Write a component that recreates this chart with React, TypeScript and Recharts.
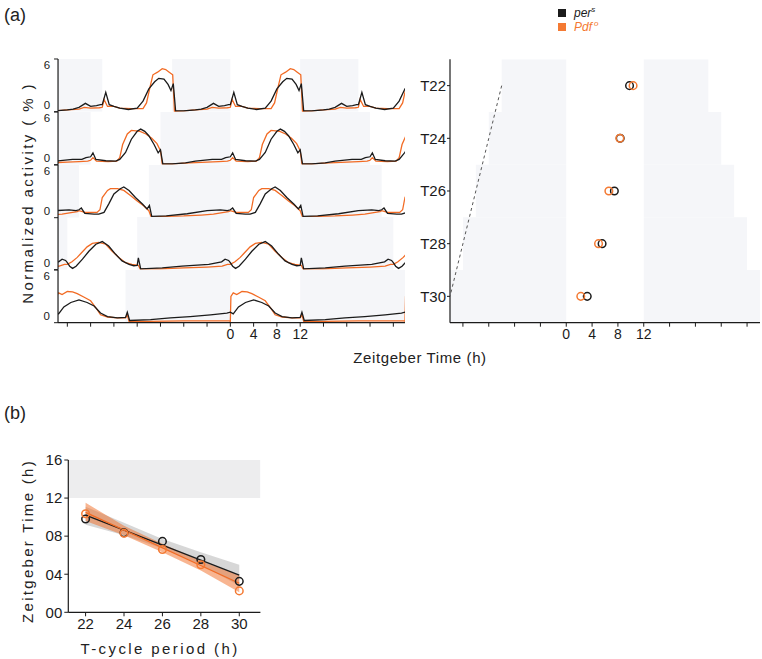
import React from "react";
import {
  LineChart,
  Line,
  XAxis,
  YAxis,
  ReferenceArea,
  ComposedChart,
  Scatter,
  Area,
} from "recharts";

const FONT = '"Liberation Sans", Arial, Helvetica, sans-serif';
const BLACK = "#1b1b1b";
const ORANGE = "#f26b24";
const ORANGE_PT = "#f47a33";
const NIGHT = "#f5f6f9";

// T-cycles: 12 h light, T - 12 h dark
const PERIODS = [22, 24, 26, 28, 30];

// mean activity profile over one cycle, [ZT (h), activity (%)]
const PERS_T22 = [
  [0, 0.8], [0.6, 2.2], [1.2, 0.8], [2, 0.6], [3, 0.4], [4.5, 0.25], [6, 0.4],
  [7, 1.2], [8, 2.6], [9, 3.4], [9.7, 3.8], [10.6, 3.7], [11.3, 3.1], [11.8, 2.4],
  [12.2, 3.2], [12.6, 0.1], [14, 0.1], [16, 0.2], [17, 0.3], [18, 0.5], [19.1, 0.95],
  [20, 0.6], [21, 0.7], [21.7, 0.8],
];
const PDF_T22 = [
  [0, 0.5], [0.3, 1.4], [0.9, 0.6], [2, 0.6], [3, 0.4], [5, 0.35], [7, 0.35],
  [7.6, 1.0], [8.2, 2.8], [8.7, 4.2], [9.5, 4.5], [10.3, 4.9], [10.9, 4.8], [11.5, 4.5],
  [12.1, 4.2], [12.4, 0.05], [14, 0.1], [16, 0.2], [18, 0.3], [18.9, 0.5], [20, 0.4],
  [21.5, 0.45],
];
const PERS_T24 = [
  [0, 0.9], [0.4, 1.35], [0.9, 0.6], [2.6, 0.45], [4.3, 0.4], [5, 0.6], [6, 1.4],
  [7, 2.9], [8, 3.8], [8.6, 4.05], [9.3, 3.8], [10, 3.3], [10.9, 2.3], [11.6, 1.35],
  [12, 1.7], [12.4, 0.1], [14, 0.1], [16.3, 0.2], [18, 0.4], [20.9, 0.6], [22.5, 0.6],
  [23.2, 0.8],
];
const PDF_T24 = [
  [0, 0.5], [0.4, 0.8], [1, 0.4], [3, 0.35], [4.5, 0.4], [5, 0.8], [5.5, 2.3],
  [6.3, 3.5], [7, 3.9], [8.5, 3.8], [9.5, 3.5], [10.5, 3.0], [11.4, 2.4], [12, 1.6],
  [12.3, 0.1], [14, 0.1], [17, 0.2], [20, 0.3], [22, 0.35], [23.5, 0.4],
];
const PERS_T26 = [
  [0, 0.9], [0.4, 1.1], [1, 0.5], [2.6, 0.4], [3.4, 0.4], [4.3, 0.6], [5.1, 1.55],
  [6, 2.7], [7.1, 3.3], [7.7, 3.5], [8.6, 3.1], [9.7, 2.3], [10.9, 1.55], [11.7, 1.0],
  [12.1, 1.4], [12.5, 0.15], [15, 0.2], [18.6, 0.45], [22, 0.8], [24.3, 0.9], [25.5, 0.8],
];
const PDF_T26 = [
  [0, 0.8], [1, 0.6], [3.1, 0.6], [3.6, 0.9], [4, 2.3], [4.9, 3.1], [5.4, 3.3],
  [6.6, 3.3], [7.7, 3.1], [8.9, 2.5], [10, 1.9], [11.1, 1.35], [12, 0.8], [12.4, 0.1],
  [15, 0.15], [18, 0.2], [21, 0.3], [23.1, 0.4], [24.9, 0.6], [25.7, 0.7],
];
const PERS_T28 = [
  [0, 0.8], [0.4, 0.4], [0.9, 0.15], [1.5, 0.4], [2.6, 1.2], [3.7, 2.1], [4.9, 2.9],
  [6, 3.2], [7.1, 2.7], [8.3, 1.75], [9.4, 1.0], [10.6, 0.6], [11.4, 0.45], [12, 0.5],
  [12.2, 1.35], [12.6, 0.1], [16.3, 0.2], [19.7, 0.4], [24.3, 0.6], [26.5, 0.9],
  [27.1, 1.2], [27.7, 1.05],
];
const PDF_T28 = [
  [0, 0.6], [0.8, 0.9], [1.7, 1.4], [2.4, 1.9], [3.4, 2.6], [4.3, 3.0], [5.4, 3.1],
  [6.6, 2.9], [7.7, 2.1], [8.9, 1.35], [10, 0.8], [11.1, 0.6], [12.2, 0.5], [12.5, 0.1],
  [16, 0.1], [20, 0.2], [24, 0.3], [26.6, 0.4], [27.5, 0.6],
];
const PERS_T30 = [
  [0, 1.2], [0.5, 1.0], [1.4, 1.8], [2.6, 2.3], [4, 2.6], [5.4, 2.3], [6.6, 1.9],
  [7.7, 1.1], [8.9, 0.7], [10.6, 0.55], [12, 0.6], [12.3, 1.2], [12.7, 0.25],
  [16.3, 0.35], [19.7, 0.55], [23.1, 0.7], [26.6, 0.9], [29.4, 1.1],
];
const PDF_T30 = [
  [0, 0.15], [0.1, 3.0], [0.5, 3.4], [1.1, 3.2], [2, 3.55], [2.9, 3.5], [3.7, 3.3],
  [4.9, 2.9], [6, 2.5], [6.9, 1.7], [7.7, 0.9], [8.9, 0.65], [10.6, 0.55], [12, 0.55],
  [12.3, 0.9], [12.6, 0.15], [16, 0.15], [22, 0.2], [27, 0.2], [29.8, 0.2],
];
const PERS_PROFILES = [PERS_T22, PERS_T24, PERS_T26, PERS_T28, PERS_T30];
const PDF_PROFILES = [PDF_T22, PDF_T24, PDF_T26, PDF_T28, PDF_T30];

// evening peak phase (ZT h)
const PERS_PHASE = [9.8, 8.35, 7.45, 5.55, 3.25];
const PDF_PHASE = [10.35, 8.3, 6.6, 5.0, 2.25];

// regression fits (ends at T22, T30) and 95% bands
const PERS_FIT = [10.2, 3.9];
const PDF_FIT = [10.5, 3.05];
const PERS_CI_LO = [9.2, 8.1, 6.7, 5.0, 2.8];
const PERS_CI_HI = [11.1, 9.4, 7.7, 6.3, 5.0];
const PDF_CI_LO = [9.6, 8.1, 6.3, 4.4, 2.1];
const PDF_CI_HI = [11.5, 9.1, 7.2, 5.4, 3.9];

const ACTO_DOMAIN: [number, number] = [-29.6, 30];
const ZT_TICKS = [-28, -24, -20, -16, -12, -8, -4, 0, 4, 8, 12, 16, 20, 24, 28];
const LABELED = [0, 4, 8, 12];
const ACT_TICKS = [0, 6];
const PB_YTICKS = [0, 4, 8, 12, 16];

const ROW_TOP = 59.3;
const ROW_H = 52.7;

const ztLabel = (v: number) => (LABELED.includes(v) ? String(v) : "");

function repeatCycle(profile: number[][], period: number) {
  const out: { zt: number; v: number }[] = [];
  for (let k = -2; k <= 1; k++) {
    for (const [t, v] of profile) out.push({ zt: t + k * period, v });
  }
  return out;
}

function darkPhases(period: number) {
  const out: [number, number][] = [];
  for (let k = -2; k <= 1; k++) {
    const a = 12 + k * period;
    const b = (k + 1) * period;
    if (b > ACTO_DOMAIN[0] && a < ACTO_DOMAIN[1]) {
      out.push([Math.max(a, ACTO_DOMAIN[0]), Math.min(b, ACTO_DOMAIN[1])]);
    }
  }
  return out;
}

// "6" sits just under the row top, "0" just above the baseline
function ActTick(props: any) {
  const { x, y, payload } = props;
  const top = payload.value > 0;
  return (
    <text x={x} y={y + (top ? 10 : -3)} textAnchor="end" fontSize={11.5} fill={BLACK} fontFamily={FONT}>
      {payload.value}
    </text>
  );
}

const ring = (color: string) => (props: any) => (
  <circle cx={props.cx} cy={props.cy} r={3.8} fill="none" stroke={color} strokeWidth={1.5} />
);

function ActogramRow({ row }: { row: number }) {
  const period = PERIODS[row];
  const last = row === PERIODS.length - 1;
  const per = repeatCycle(PERS_PROFILES[row], period);
  const pdf = repeatCycle(PDF_PROFILES[row], period);
  const height = 4 + ROW_H + (last ? 30 : 0) + 4;
  return (
    <div style={{ position: "absolute", left: 0, top: ROW_TOP + ROW_H * row - 4 }}>
      <LineChart width={420} height={height} margin={{ top: 4, right: 15, bottom: 4, left: 0 }}>
        <XAxis
          type="number"
          dataKey="zt"
          domain={ACTO_DOMAIN}
          allowDataOverflow
          ticks={ZT_TICKS}
          interval={0}
          tickFormatter={ztLabel}
          height={last ? 30 : 0}
          tick={last ? { fontSize: 14, fill: BLACK, fontFamily: FONT } : false}
          tickLine={last ? { stroke: BLACK } : false}
          tickSize={4}
          axisLine={{ stroke: last ? BLACK : "#b3b3b3", strokeWidth: last ? 1.2 : 1.6 }}
        />
        <YAxis
          type="number"
          domain={[0, 6]}
          allowDataOverflow
          ticks={row === 3 ? [0] : ACT_TICKS}
          interval={0}
          width={58}
          tickSize={4}
          tickMargin={4}
          tick={<ActTick />}
          axisLine={{ stroke: BLACK, strokeWidth: 1.2 }}
          tickLine={{ stroke: BLACK }}
        />
        {darkPhases(period).map(([a, b]) => (
          <ReferenceArea key={a} x1={a} x2={b} y1={0} y2={6} fill={NIGHT} fillOpacity={1} stroke="none" ifOverflow="hidden" />
        ))}
        <Line data={pdf} dataKey="v" type="linear" stroke={ORANGE} strokeWidth={1.3} dot={false} isAnimationActive={false} />
        <Line data={per} dataKey="v" type="linear" stroke={BLACK} strokeWidth={1.3} dot={false} isAnimationActive={false} />
      </LineChart>
    </div>
  );
}

function PhasePanel() {
  const perPts = PERIODS.map((t, i) => ({ t, zt: PERS_PHASE[i] }));
  const pdfPts = PERIODS.map((t, i) => ({ t, zt: PDF_PHASE[i] }));
  const onset = PERIODS.map((t) => ({ t, zt: 12 - t }));
  return (
    <div style={{ position: "absolute", left: 400, top: 55 }}>
      <ComposedChart width={362} height={4.3 + 263.4 + 30 + 4} margin={{ top: 4.3, right: 2, bottom: 4, left: 0 }}>
        <XAxis
          type="number"
          dataKey="zt"
          domain={[-18, 30]}
          allowDataOverflow
          ticks={ZT_TICKS.filter((v) => v > -18)}
          interval={0}
          tickFormatter={ztLabel}
          height={30}
          tickSize={4}
          tick={{ fontSize: 14, fill: BLACK, fontFamily: FONT }}
          axisLine={{ stroke: BLACK, strokeWidth: 1.2 }}
          tickLine={{ stroke: BLACK }}
        />
        <YAxis
          type="number"
          dataKey="t"
          domain={[21, 31]}
          allowDataOverflow
          reversed
          ticks={PERIODS}
          interval={0}
          tickFormatter={(v: number) => `T${v}`}
          width={50}
          tickSize={3}
          tickMargin={1}
          tick={{ fontSize: 15, fill: BLACK, fontFamily: FONT }}
          axisLine={{ stroke: BLACK, strokeWidth: 1.2 }}
          tickLine={{ stroke: BLACK }}
        />
        {PERIODS.map((t) => (
          <ReferenceArea key={`l${t}`} x1={12 - t} x2={0} y1={t - 1} y2={t + 1} fill={NIGHT} fillOpacity={1} stroke="none" ifOverflow="hidden" />
        ))}
        {PERIODS.map((t) => (
          <ReferenceArea key={`r${t}`} x1={12} x2={t} y1={t - 1} y2={t + 1} fill={NIGHT} fillOpacity={1} stroke="none" ifOverflow="hidden" />
        ))}
        <Scatter
          data={onset}
          line={{ stroke: "#555", strokeWidth: 1, strokeDasharray: "3 3" }}
          shape={() => <g />}
          isAnimationActive={false}
        />
        <Scatter data={perPts} shape={ring(BLACK)} isAnimationActive={false} />
        <Scatter data={pdfPts} shape={ring(ORANGE_PT)} isAnimationActive={false} />
      </ComposedChart>
    </div>
  );
}

function FitPanel() {
  const n = PERIODS.length - 1;
  const rows = PERIODS.map((t, i) => ({
    t,
    perCI: [PERS_CI_LO[i], PERS_CI_HI[i]],
    pdfCI: [PDF_CI_LO[i], PDF_CI_HI[i]],
    perFit: i === 0 ? PERS_FIT[0] : i === n ? PERS_FIT[1] : null,
    pdfFit: i === 0 ? PDF_FIT[0] : i === n ? PDF_FIT[1] : null,
    perPhase: PERS_PHASE[i],
    pdfPhase: PDF_PHASE[i],
  }));
  return (
    <div style={{ position: "absolute", left: 0, top: 450 }}>
      <ComposedChart width={275} height={200} data={rows} margin={{ top: 10, right: 14.6, bottom: 7.7, left: 0 }}>
        <XAxis
          type="number"
          dataKey="t"
          domain={[21.1, 31.1]}
          allowDataOverflow
          ticks={PERIODS}
          interval={0}
          height={30}
          tickSize={4}
          tick={{ fontSize: 15, fill: BLACK, fontFamily: FONT }}
          axisLine={{ stroke: BLACK, strokeWidth: 1.2 }}
          tickLine={{ stroke: BLACK }}
        />
        <YAxis
          type="number"
          domain={[0, 16]}
          allowDataOverflow
          ticks={PB_YTICKS}
          interval={0}
          tickFormatter={(v: number) => String(v).padStart(2, "0")}
          width={68.3}
          tickSize={4}
          tick={{ fontSize: 15, fill: BLACK, fontFamily: FONT }}
          axisLine={{ stroke: BLACK, strokeWidth: 1.2 }}
          tickLine={{ stroke: BLACK }}
        />
        <ReferenceArea y1={12} y2={16} fill="#ededee" fillOpacity={1} stroke="none" ifOverflow="hidden" />
        <Area dataKey="perCI" type="linear" fill="#9c9c9c" fillOpacity={0.4} stroke="none" isAnimationActive={false} />
        <Area dataKey="pdfCI" type="linear" fill={ORANGE} fillOpacity={0.5} stroke="none" isAnimationActive={false} />
        <Line dataKey="perFit" type="linear" stroke={BLACK} strokeWidth={1.3} dot={false} connectNulls isAnimationActive={false} />
        <Line dataKey="pdfFit" type="linear" stroke={ORANGE} strokeWidth={1.3} dot={false} connectNulls isAnimationActive={false} />
        <Scatter dataKey="perPhase" shape={ring(BLACK)} isAnimationActive={false} />
        <Scatter dataKey="pdfPhase" shape={ring(ORANGE_PT)} isAnimationActive={false} />
      </ComposedChart>
    </div>
  );
}

export default function App() {
  const title = { fontFamily: FONT, fontSize: 15, fill: "#222" };
  return (
    <div style={{ position: "absolute", left: 0, top: 0, width: 762, height: 659, background: "#fff" }}>
      <svg width={762} height={659} style={{ position: "absolute", left: 0, top: 0 }}>
        <text x={4} y={21} fontFamily={FONT} fontSize={18} fill="#222">(a)</text>
        <text x={4} y={419} fontFamily={FONT} fontSize={18} fill="#222">(b)</text>
        <text {...title} letterSpacing={2.4} textAnchor="middle" dominantBaseline="central" transform="translate(27 193) rotate(-90)">
          Normalized activity ( % )
        </text>
        <text {...title} letterSpacing={0.6} textAnchor="middle" x={420} y={363}>
          Zeitgeber Time (h)
        </text>
        <text {...title} letterSpacing={2.3} textAnchor="middle" dominantBaseline="central" transform="translate(27.5 541) rotate(-90)">
          Zeitgeber Time (h)
        </text>
        <text {...title} letterSpacing={2.4} textAnchor="middle" x={160} y={654}>
          T-cycle period (h)
        </text>
        <rect x={558} y={9} width={8} height={8} fill={BLACK} />
        <text x={574} y={17} fontFamily={FONT} fontSize={12} fontStyle="italic" fill={BLACK}>
          per<tspan fontSize={8} dy={-5}>s</tspan>
        </text>
        <rect x={558} y={23} width={8} height={8} fill={ORANGE_PT} />
        <text x={574} y={31} fontFamily={FONT} fontSize={12} fontStyle="italic" fill={ORANGE_PT}>
          Pdf<tspan fontSize={8} dx={2} dy={-5}>o</tspan>
        </text>
      </svg>
      {PERIODS.map((_, i) => (
        <ActogramRow key={i} row={i} />
      ))}
      <PhasePanel />
      <FitPanel />
    </div>
  );
}
